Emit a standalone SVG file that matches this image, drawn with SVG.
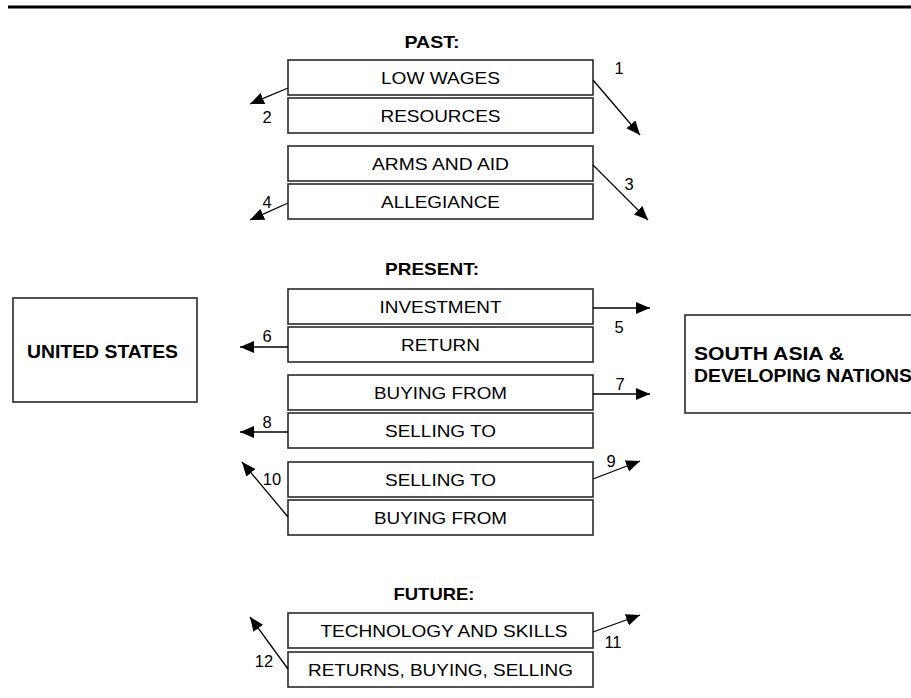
<svg xmlns="http://www.w3.org/2000/svg" width="911" height="698" viewBox="0 0 911 698">
<defs>
<style>
.box{fill:#fff;stroke:#2a2a2a;stroke-width:1.6}
.lbl{font-family:"Liberation Sans",Arial,sans-serif;font-size:17px;text-anchor:middle;fill:#000}
.ttl{font-family:"Liberation Sans",Arial,sans-serif;font-size:17px;font-weight:bold;text-anchor:middle;fill:#000}
.big{font-family:"Liberation Sans",Arial,sans-serif;font-size:18px;font-weight:bold;fill:#000}
.num{font-family:"Liberation Sans",Arial,sans-serif;font-size:16.5px;text-anchor:middle;fill:#000}
.conn line{stroke:#000;stroke-width:1.3;marker-end:url(#ah)}
</style>
<marker id="ah" markerUnits="userSpaceOnUse" markerWidth="15" markerHeight="13" refX="14" refY="6" orient="auto">
<path d="M0,0 L14,6 L0,12 Z" fill="#000"/>
</marker>
</defs>
<rect width="911" height="698" fill="#fff"/>
<line x1="8" y1="7" x2="911" y2="7" stroke="#000" stroke-width="3"/>

<text class="ttl" x="432" y="48" textLength="55" lengthAdjust="spacingAndGlyphs">PAST:</text>
<text class="ttl" x="432" y="275" textLength="94" lengthAdjust="spacingAndGlyphs">PRESENT:</text>
<text class="ttl" x="434" y="600" textLength="81" lengthAdjust="spacingAndGlyphs">FUTURE:</text>

<g id="us"><rect class="box" x="13" y="298" width="184" height="104"/><text class="big" x="27" y="358" textLength="151" lengthAdjust="spacingAndGlyphs">UNITED STATES</text></g>
<g id="sa"><rect class="box" x="685" y="315" width="240" height="98"/><text class="big" x="694" y="360" textLength="150" lengthAdjust="spacingAndGlyphs">SOUTH ASIA &amp;</text><text class="big" x="694" y="382" textLength="218" lengthAdjust="spacingAndGlyphs">DEVELOPING NATIONS</text></g>

<g id="n1"><rect class="box" x="288" y="60" width="305" height="35"/><text class="lbl" x="440.5" y="83.5" textLength="119" lengthAdjust="spacingAndGlyphs">LOW WAGES</text></g>
<g id="n2"><rect class="box" x="288" y="98" width="305" height="35"/><text class="lbl" x="440.5" y="121.5" textLength="120" lengthAdjust="spacingAndGlyphs">RESOURCES</text></g>
<g id="n3"><rect class="box" x="288" y="146" width="305" height="35"/><text class="lbl" x="440.5" y="169.5" textLength="137" lengthAdjust="spacingAndGlyphs">ARMS AND AID</text></g>
<g id="n4"><rect class="box" x="288" y="184" width="305" height="35"/><text class="lbl" x="440.5" y="207.5" textLength="119" lengthAdjust="spacingAndGlyphs">ALLEGIANCE</text></g>
<g id="n5"><rect class="box" x="288" y="289" width="305" height="35"/><text class="lbl" x="440.5" y="312.5" textLength="122" lengthAdjust="spacingAndGlyphs">INVESTMENT</text></g>
<g id="n6"><rect class="box" x="288" y="327" width="305" height="35"/><text class="lbl" x="440.5" y="350.5" textLength="79" lengthAdjust="spacingAndGlyphs">RETURN</text></g>
<g id="n7"><rect class="box" x="288" y="375" width="305" height="35"/><text class="lbl" x="440.5" y="398.5" textLength="133" lengthAdjust="spacingAndGlyphs">BUYING FROM</text></g>
<g id="n8"><rect class="box" x="288" y="413" width="305" height="35"/><text class="lbl" x="440.5" y="436.5" textLength="111" lengthAdjust="spacingAndGlyphs">SELLING TO</text></g>
<g id="n9"><rect class="box" x="288" y="462" width="305" height="35"/><text class="lbl" x="440.5" y="485.5" textLength="111" lengthAdjust="spacingAndGlyphs">SELLING TO</text></g>
<g id="n10"><rect class="box" x="288" y="500" width="305" height="35"/><text class="lbl" x="440.5" y="523.5" textLength="133" lengthAdjust="spacingAndGlyphs">BUYING FROM</text></g>
<g id="n11"><rect class="box" x="288" y="613" width="305" height="35"/><text class="lbl" x="444" y="636.5" textLength="247" lengthAdjust="spacingAndGlyphs">TECHNOLOGY AND SKILLS</text></g>
<g id="n12"><rect class="box" x="288" y="652" width="305" height="35"/><text class="lbl" x="440.5" y="675.5" textLength="265" lengthAdjust="spacingAndGlyphs">RETURNS, BUYING, SELLING</text></g>

<g id="connectors" class="conn">
<line x1="593" y1="80" x2="640" y2="135"/>
<line x1="288" y1="88" x2="250" y2="104"/>
<line x1="593" y1="165" x2="648" y2="220"/>
<line x1="288" y1="203" x2="250" y2="220"/>
<line x1="593" y1="308" x2="650" y2="308"/>
<line x1="288" y1="347" x2="240" y2="347"/>
<line x1="593" y1="394" x2="650" y2="394"/>
<line x1="288" y1="432" x2="240" y2="432"/>
<line x1="593" y1="479" x2="640" y2="461"/>
<line x1="288" y1="517" x2="242" y2="462"/>
<line x1="593" y1="632" x2="640" y2="615"/>
<line x1="288" y1="669" x2="250" y2="617"/>
</g>
<g id="labels">
<text class="num" x="619" y="74">1</text>
<text class="num" x="267" y="123">2</text>
<text class="num" x="629" y="190">3</text>
<text class="num" x="267" y="208">4</text>
<text class="num" x="619" y="333">5</text>
<text class="num" x="267" y="342">6</text>
<text class="num" x="620" y="390">7</text>
<text class="num" x="267" y="428">8</text>
<text class="num" x="611" y="467">9</text>
<text class="num" x="272" y="485">10</text>
<text class="num" x="613" y="648">11</text>
<text class="num" x="264" y="667">12</text>
</g>
</svg>
